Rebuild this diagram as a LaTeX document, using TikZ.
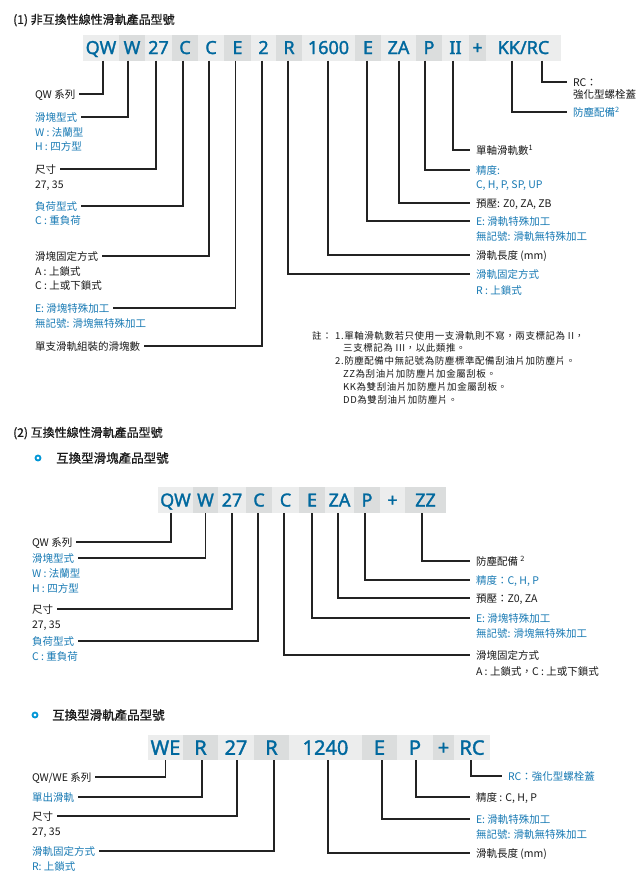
\documentclass[tikz,border=0pt]{standalone}
\usepackage{fontspec}
\setmainfont{Noto Sans CJK TC}
\newfontfamily\codefont[FakeBold=1.6]{Noto Sans}
\newfontfamily\headfont[FakeBold=0.8]{Noto Sans CJK TC}
\newfontfamily\notefont[LetterSpace=6]{Noto Sans CJK TC}
\definecolor{codeblue}{RGB}{0,104,158}
\definecolor{lblue}{RGB}{24,122,180}
\definecolor{lblack}{RGB}{25,25,25}
\definecolor{boxlight}{RGB}{236,237,237}
\definecolor{boxdark}{RGB}{219,221,221}
\definecolor{linecol}{RGB}{35,35,35}
\definecolor{bulletblue}{RGB}{0,150,214}
\begin{document}
\begin{tikzpicture}[x=1pt,y=-1pt,
 cbox/.style={rectangle, inner sep=0pt, outer sep=0pt, minimum height=26pt, text=codeblue, font=\codefont\fontsize{18}{18}\selectfont, text height=13pt, text depth=0pt},
 cl/.style={cbox, fill=boxlight},
 cd/.style={cbox, fill=boxdark},
 cbig/.style={minimum height=25pt, font=\codefont\fontsize{20}{20}\selectfont, text height=14.5pt},
 lab/.style={inner sep=0pt, outer xsep=3.5pt, outer ysep=0pt, anchor=west, font=\fontsize{10.5}{12}\selectfont, text=lblack, text height=9pt, text depth=1pt},
 labr/.style={lab, outer xsep=6pt},
 blu/.style={text=lblue},
 conn/.style={draw=linecol, line width=1.2pt},
 head/.style={inner sep=0pt, anchor=west, font=\headfont\fontsize{12}{14}\selectfont, text=lblack},
 note/.style={inner sep=0pt, anchor=west, font=\notefont\fontsize{9.5}{11}\selectfont, text=lblack},
 bul/.style={circle, draw=bulletblue, line width=1.8pt, minimum size=5pt, inner sep=0pt},
]
\useasboundingbox[fill=white] (0,0) rectangle (638,879);

% ================= Section 1 =================
\node[head] (h1) at (13,20) {(1) 非互換性線性滑軌產品型號};

\node[cl, minimum width=36pt] (a-qw) at (101,47.5) {QW};
\node[cd, minimum width=26pt] (a-w) at (132,47.5) {W};
\node[cl, minimum width=27pt] (a-27) at (158.5,47.5) {27};
\node[cd, minimum width=26pt] (a-c1) at (185,47.5) {C};
\node[cl, minimum width=26pt] (a-c2) at (211,47.5) {C};
\node[cd, minimum width=27pt] (a-e) at (237.5,47.5) {E};
\node[cl, minimum width=25pt] (a-2) at (263.5,47.5) {2};
\node[cd, minimum width=26pt] (a-r) at (289,47.5) {R};
\node[cl, minimum width=53pt] (a-len) at (328.5,47.5) {1600};
\node[cd, minimum width=26pt] (a-e2) at (368,47.5) {E};
\node[cl, minimum width=35pt] (a-za) at (398.5,47.5) {ZA};
\node[cd, minimum width=26pt] (a-p) at (429,47.5) {P};
\node[cl, minimum width=27pt] (a-ii) at (455.5,47.5) {II};
\node[cd, minimum width=17pt] (a-plus) at (477.5,47.5) {+};
\node[cl, minimum width=75pt] (a-kk) at (523.5,47.5) {KK/RC};

% left labels
\node[lab] (l1-qw) at (31.5,94) {QW 系列};
\node[lab,blu] (l1-blk) at (31.5,117) {滑塊型式};
\node[lab,blu] (l1-blk2) at (31.5,132) {W : 法蘭型};
\node[lab,blu] (l1-blk3) at (31.5,146) {H : 四方型};
\node[lab] (l1-size) at (31.5,169) {尺寸};
\node[lab] (l1-size2) at (31.5,184) {27, 35};
\node[lab,blu] (l1-load) at (31.5,206) {負荷型式};
\node[lab,blu] (l1-load2) at (31.5,220) {C : 重負荷};
\node[lab] (l1-fix) at (31.5,256) {滑塊固定方式};
\node[lab] (l1-fix2) at (31.5,271) {A : 上鎖式};
\node[lab] (l1-fix3) at (31.5,285) {C : 上或下鎖式};
\node[lab,blu] (l1-sp) at (31.5,308) {E: 滑塊特殊加工};
\node[lab,blu] (l1-sp2) at (31.5,323) {無記號: 滑塊無特殊加工};
\node[lab] (l1-num) at (31.5,346) {單支滑軌組裝的滑塊數};

% right labels
\node[labr] (r1-rc) at (567,82) {RC：};
\node[labr] (r1-rc2) at (567,94) {強化型螺栓蓋};
\node[labr,blu] (r1-kk) at (567,112) {防塵配備\textsuperscript{2}};
\node[labr] (r1-ii) at (470,150) {單軸滑軌數\textsuperscript{1}};
\node[labr,blu] (r1-p) at (470,170) {精度:};
\node[labr,blu] (r1-p2) at (470,184) {C, H, P, SP, UP};
\node[labr] (r1-za) at (470,203) {預壓: Z0, ZA, ZB};
\node[labr,blu] (r1-e) at (470,221) {E: 滑軌特殊加工};
\node[labr,blu] (r1-e2) at (470,236) {無記號: 滑軌無特殊加工};
\node[labr] (r1-len) at (470,255) {滑軌長度 (mm)};
\node[labr,blu] (r1-r) at (470,274) {滑軌固定方式};
\node[labr,blu] (r1-r2) at (470,290) {R : 上鎖式};

% connectors
\draw[conn] ([xshift=2pt]a-qw.south) |- (l1-qw.east);
\draw[conn] ([xshift=-4pt]a-w.south) |- (l1-blk.east);
\draw[conn] ([xshift=-2.5pt]a-27.south) |- (l1-size.east);
\draw[conn] ([xshift=-2pt]a-c1.south) |- (l1-load.east);
\draw[conn] ([xshift=-2pt]a-c2.south) |- (l1-fix.east);
\draw[conn] ([xshift=-2pt]a-e.south) |- (l1-sp.east);
\draw[conn] ([xshift=-1.5pt]a-2.south) |- (l1-num.east);
\draw[conn] ([xshift=-1pt]a-r.south) |- (r1-r.west);
\draw[conn] ([xshift=-0.5pt]a-len.south) |- (r1-len.west);
\draw[conn] ([xshift=-1pt]a-e2.south) |- (r1-e.west);
\draw[conn] ([xshift=0.5pt]a-za.south) |- (r1-za.west);
\draw[conn] ([xshift=-4pt]a-p.south) |- (r1-p.west);
\draw[conn] ([xshift=-2.5pt]a-ii.south) |- (r1-ii.west);
\draw[conn] ([xshift=-11.5pt]a-kk.south) |- (r1-kk.west);
\draw[conn] ([xshift=18.5pt]a-kk.south) |- (r1-rc.west);

% notes
\node[note] (n0) at (312,336) {註：};
\node[note] (n1) at (335,336) {1.單軸滑軌數若只使用一支滑軌則不寫，兩支標記為 II，};
\node[note] (n2) at (343,348) {三支標記為 III，以此類推。};
\node[note] (n3) at (335,361) {2.防塵配備中無記號為防塵標準配備刮油片加防塵片。};
\node[note] (n4) at (343,374) {ZZ為刮油片加防塵片加金屬刮板。};
\node[note] (n5) at (343,387) {KK為雙刮油片加防塵片加金屬刮板。};
\node[note] (n6) at (343,400) {DD為雙刮油片加防塵片。};

% ================= Section 2 =================
\node[head] (h2) at (13,433) {(2) 互換性線性滑軌產品型號};
\node[bul] (bu1) at (38,458) {};
\node[head, font=\headfont\fontsize{12.5}{14}\selectfont] (h2a) at (56,458) {互換型滑塊產品型號};

\node[cl, minimum width=35pt] (b-qw) at (175.5,500) {QW};
\node[cd, minimum width=25pt] (b-w) at (205.5,500) {W};
\node[cl, minimum width=28pt] (b-27) at (232,500) {27};
\node[cd, minimum width=26pt] (b-c1) at (259,500) {C};
\node[cl, minimum width=27pt] (b-c2) at (285.5,500) {C};
\node[cd, minimum width=26pt] (b-e) at (312,500) {E};
\node[cl, minimum width=29pt] (b-za) at (339.5,500) {ZA};
\node[cd, minimum width=26pt] (b-p) at (367,500) {P};
\node[cl, minimum width=25pt] (b-plus) at (392.5,500) {+};
\node[cd, minimum width=41pt] (b-zz) at (425.5,500) {ZZ};

\node[lab] (l2-qw) at (28.5,542) {QW 系列};
\node[lab,blu] (l2-blk) at (28.5,558) {滑塊型式};
\node[lab,blu] (l2-blk2) at (28.5,573) {W : 法蘭型};
\node[lab,blu] (l2-blk3) at (28.5,588) {H : 四方型};
\node[lab] (l2-size) at (28.5,609) {尺寸};
\node[lab] (l2-size2) at (28.5,624) {27, 35};
\node[lab,blu] (l2-load) at (28.5,641) {負荷型式};
\node[lab,blu] (l2-load2) at (28.5,656) {C : 重負荷};

\node[labr] (r2-zz) at (470,561) {防塵配備 \textsuperscript{2}};
\node[labr,blu] (r2-p) at (470,580) {精度：C, H, P};
\node[labr] (r2-za) at (470,598) {預壓：Z0, ZA};
\node[labr,blu] (r2-e) at (470,618) {E: 滑塊特殊加工};
\node[labr,blu] (r2-e2) at (470,633) {無記號: 滑塊無特殊加工};
\node[labr] (r2-fix) at (470,655) {滑塊固定方式};
\node[labr] (r2-fix2) at (470,671) {A : 上鎖式，C : 上或下鎖式};

\draw[conn] ([xshift=-4.5pt]b-qw.south) |- (l2-qw.east);
\draw[conn] (b-w.south) |- (l2-blk.east);
\draw[conn] (b-27.south) |- (l2-size.east);
\draw[conn] ([xshift=-1pt]b-c1.south) |- (l2-load.east);
\draw[conn] ([xshift=-1.5pt]b-c2.south) |- (r2-fix.west);
\draw[conn] (b-e.south) |- (r2-e.west);
\draw[conn] ([xshift=-1.5pt]b-za.south) |- (r2-za.west);
\draw[conn] ([xshift=-2pt]b-p.south) |- (r2-p.west);
\draw[conn] ([xshift=-3.5pt]b-zz.south) |- (r2-zz.west);

% ================= Section 3 =================
\node[bul] (bu2) at (35,715) {};
\node[head, font=\headfont\fontsize{12.5}{14}\selectfont] (h3a) at (52,715) {互換型滑軌產品型號};

\node[cl, cbig, minimum width=35pt] (c-we) at (165.5,747.5) {WE};
\node[cd, cbig, minimum width=35pt] (c-r1) at (200.5,747.5) {R};
\node[cl, cbig, minimum width=36pt] (c-27) at (236,747.5) {27};
\node[cd, cbig, minimum width=35pt] (c-r2) at (271.5,747.5) {R};
\node[cl, cbig, minimum width=73pt] (c-len) at (325.5,747.5) {1240};
\node[cd, cbig, minimum width=35pt] (c-e) at (379.5,747.5) {E};
\node[cl, cbig, minimum width=36pt] (c-p) at (415,747.5) {P};
\node[cd, cbig, minimum width=21pt] (c-plus) at (443.5,747.5) {+};
\node[cl, cbig, minimum width=36pt] (c-rc) at (472,747.5) {RC};

\node[lab] (l3-qw) at (28.5,777) {QW/WE 系列};
\node[lab,blu] (l3-single) at (28.5,797) {單出滑軌};
\node[lab] (l3-size) at (28.5,816) {尺寸};
\node[lab] (l3-size2) at (28.5,831) {27, 35};
\node[lab,blu] (l3-fix) at (28.5,851) {滑軌固定方式};
\node[lab,blu] (l3-fix2) at (28.5,866) {R: 上鎖式};

\node[labr,blu] (r3-rc) at (502,776) {RC：強化型螺栓蓋};
\node[labr] (r3-p) at (470,797) {精度 : C, H, P};
\node[labr,blu] (r3-e) at (470,819) {E: 滑軌特殊加工};
\node[labr,blu] (r3-e2) at (470,834) {無記號: 滑軌無特殊加工};
\node[labr] (r3-len) at (470,853) {滑軌長度 (mm)};

\draw[conn] (c-we.south) |- (l3-qw.east);
\draw[conn] ([xshift=1.5pt]c-r1.south) |- (l3-single.east);
\draw[conn] ([xshift=1pt]c-27.south) |- (l3-size.east);
\draw[conn] ([xshift=2.5pt]c-r2.south) |- (l3-fix.east);
\draw[conn] ([xshift=2.5pt]c-len.south) |- (r3-len.west);
\draw[conn] ([xshift=2.5pt]c-e.south) |- (r3-e.west);
\draw[conn] ([xshift=1pt]c-p.south) |- (r3-p.west);
\draw[conn] ([xshift=-1pt]c-rc.south) |- (r3-rc.west);
\end{tikzpicture}
\end{document}
